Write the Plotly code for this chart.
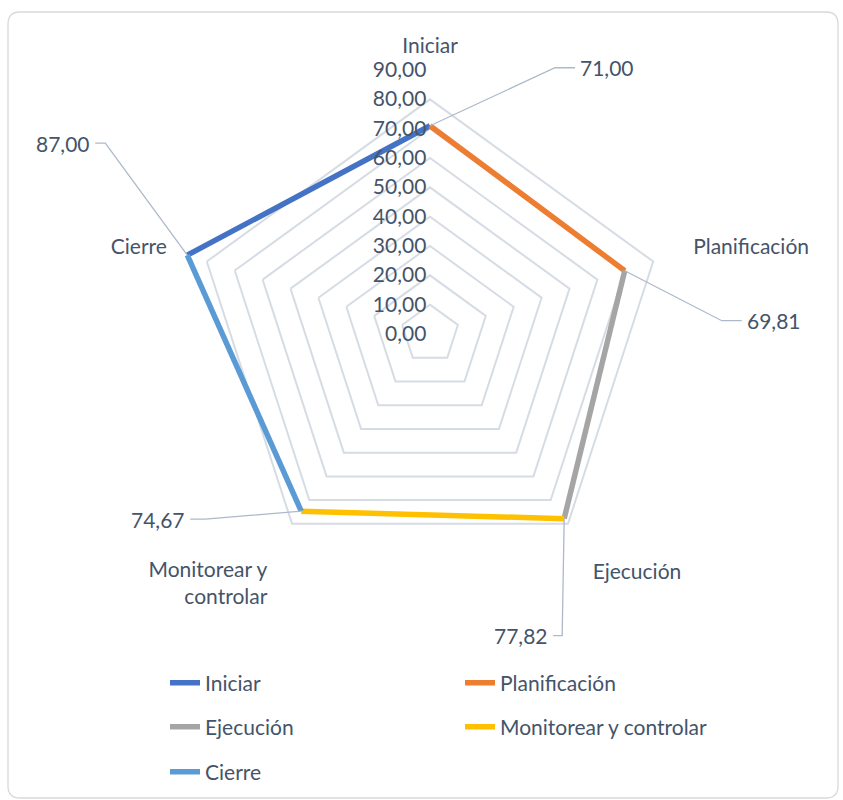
import math
import plotly.graph_objects as go

# ---------------- data ----------------
categories = ["Iniciar", "Planificación", "Ejecución", "Monitorear y controlar", "Cierre"]
axis_labels = ["Iniciar", "Planificación", "Ejecución", "Monitorear y<br>controlar", "Cierre"]
values = [71.00, 69.81, 77.82, 74.67, 87.00]
value_labels = ["71,00", "69,81", "77,82", "74,67", "87,00"]
series_names = ["Iniciar", "Planificación", "Ejecución", "Monitorear y controlar", "Cierre"]
series_colors = ["#4472C4", "#ED7D31", "#A5A5A5", "#FFC000", "#5B9BD5"]
radial_ticks = [0, 10, 20, 30, 40, 50, 60, 70, 80, 90]

W, H = 843, 800
CX, CY, R = 430, 334, 264   # pixel centre and radius of the 90 ring
RMAX = 90
FONT = "Lato, Open Sans, sans-serif"
TXT = "#44546A"
FS = 21

fig = go.Figure()

# each series is the segment from the previous category to its own category
legend_ids = ["legend", "legend", "legend2", "legend2", "legend3"]
n = len(categories)
for i, name in enumerate(series_names):
    prev = (i - 1) % n
    fig.add_trace(go.Scatterpolar(
        r=[values[prev], values[i]],
        theta=[axis_labels[prev], axis_labels[i]],
        mode="lines",
        line=dict(color=series_colors[i], width=5.5),
        name=name,
        legend=legend_ids[i],
        hoverinfo="skip",
    ))

fig.update_layout(
    width=W, height=H,
    margin=dict(l=0, r=0, t=0, b=0),
    paper_bgcolor="white",
    separators=",.",
    font=dict(family=FONT, size=FS, color=TXT),
    polar=dict(
        domain=dict(x=[(CX - R) / W, (CX + R) / W], y=[1 - (CY + R) / H, 1 - (CY - R) / H]),
        gridshape="linear",
        bgcolor="white",
        radialaxis=dict(
            range=[0, RMAX], tickvals=radial_ticks, tickformat=".2f",
            angle=90, tickangle=90, side="counterclockwise",
            showline=False, ticks="", gridcolor="#D6DCE4", gridwidth=1.5,
            tickfont=dict(size=FS, color=TXT),
        ),
        angularaxis=dict(
            categoryarray=axis_labels, categoryorder="array",
            rotation=90, direction="clockwise",
            showgrid=False, showline=False,
            ticks="outside", ticklen=8, tickcolor="rgba(0,0,0,0)",
            tickfont=dict(size=FS, color=TXT),
        ),
    ),
    showlegend=True,
)

legend_common = dict(orientation="h", xanchor="left", yanchor="middle",
                     font=dict(size=FS, color=TXT), bgcolor="rgba(0,0,0,0)",
                     entrywidth=250, entrywidthmode="pixels", itemwidth=30)
fig.update_layout(
    legend=dict(x=165 / W, y=1 - 683 / H, **legend_common),
    legend2=dict(x=165 / W, y=1 - 727 / H, **legend_common),
    legend3=dict(x=165 / W, y=1 - 772 / H, **legend_common),
)

# data labels with leader lines (positions derived from values via polar geometry)
angles_deg = [90 - 72 * k for k in range(n)]
# (elbow offset from the point, label offset from the point, text anchor)
label_style = [
    ((125, -58), (145, -58), "left"),
    ((97, 50), (117, 50), "left"),
    ((-2, 117), (-11, 117), "right"),
    ((-96, 8), (-111, 8), "right"),
    ((-82, -112), (-92, -112), "right"),
]
shapes = []
for k in range(n):
    a = math.radians(angles_deg[k])
    rp = values[k] / RMAX * R
    px, py = CX + rp * math.cos(a), CY - rp * math.sin(a)
    (ex, ey), (lx, ly), anchor = label_style[k]
    ex, ey, lx, ly = px + ex, py + ey, px + lx, py + ly
    path = f"M {px/W},{1-py/H} L {ex/W},{1-ey/H} L {lx/W},{1-ly/H}"
    shapes.append(dict(type="path", xref="paper", yref="paper", path=path,
                       line=dict(color="#ADB9CA", width=1.3)))
    fig.add_annotation(x=(lx + (3 if anchor == "left" else -3)) / W, y=1 - ly / H,
                       xref="paper", yref="paper", text=value_labels[k],
                       showarrow=False, xanchor=anchor, yanchor="middle",
                       font=dict(size=FS, color=TXT))

# rounded chart border
x0, y0, x1, y1, rr = 8, 12, 838, 798, 12
border = (f"M {(x0+rr)/W},{1-y0/H} L {(x1-rr)/W},{1-y0/H} Q {x1/W},{1-y0/H} {x1/W},{1-(y0+rr)/H} "
          f"L {x1/W},{1-(y1-rr)/H} Q {x1/W},{1-y1/H} {(x1-rr)/W},{1-y1/H} "
          f"L {(x0+rr)/W},{1-y1/H} Q {x0/W},{1-y1/H} {x0/W},{1-(y1-rr)/H} "
          f"L {x0/W},{1-(y0+rr)/H} Q {x0/W},{1-y0/H} {(x0+rr)/W},{1-y0/H} Z")
shapes.append(dict(type="path", xref="paper", yref="paper", path=border,
                   line=dict(color="#D9D9D9", width=1.3), layer="below"))
fig.update_layout(shapes=shapes)

fig.write_html("out.html")
